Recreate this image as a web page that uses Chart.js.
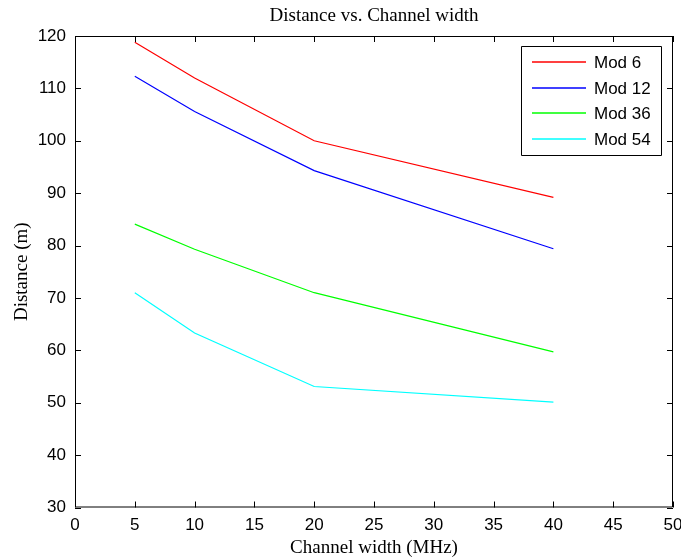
<!DOCTYPE html>
<html>
<head>
<meta charset="utf-8">
<title>Distance vs. Channel width</title>
<script src="https://cdn.jsdelivr.net/npm/chart.js@4.4.1/dist/chart.umd.min.js"></script>
<style>
  html, body { margin: 0; padding: 0; background: #fff; }
  #chart { display: block; }
</style>
</head>
<body>
<canvas id="chart" width="681" height="559"></canvas>
<script>
// channel width (MHz) on x, distance (m) on y
const channelWidths = [5, 10, 20, 40];
const mod6 = [118.8, 112, 100, 89.2];
const mod12 = [112.3, 105.6, 94.3, 79.4];
const mod36 = [84.1, 79.3, 71, 59.7];
const mod54 = [71, 63.3, 53.1, 50.1];
const seriesNames = ['Mod 6', 'Mod 12', 'Mod 36', 'Mod 54'];
const seriesColors = ['#ff0000', '#0000ff', '#00ff00', '#00ffff'];

const titleText = 'Distance vs. Channel width';
const xTitle = 'Channel width (MHz)';
const yTitle = 'Distance (m)';

const sansFont = '"Liberation Sans", Arial, sans-serif';
const serifFont = '"Liberation Serif", "Times New Roman", serif';

const toPoints = vals => vals.map((v, i) => ({ x: channelWidths[i], y: v }));

// box, inward ticks on all four sides, title and legend (MATLAB look)
const matlabFrame = {
  id: 'matlabFrame',
  afterDraw(chart) {
    const { ctx, chartArea: a, scales: { x, y } } = chart;
    const tick = 6;
    ctx.save();
    ctx.strokeStyle = '#000';
    ctx.lineWidth = 1;
    ctx.beginPath();
    ctx.rect(a.left + 0.5, a.top + 0.5, a.right - a.left - 1, a.bottom - a.top - 1);
    x.ticks.forEach(t => {
      const px = Math.round(x.getPixelForValue(t.value)) + 0.5;
      ctx.moveTo(px, a.bottom); ctx.lineTo(px, a.bottom - tick);
      ctx.moveTo(px, a.top); ctx.lineTo(px, a.top + tick);
    });
    y.ticks.forEach(t => {
      const py = Math.round(y.getPixelForValue(t.value)) + 0.5;
      ctx.moveTo(a.left, py); ctx.lineTo(a.left + tick, py);
      ctx.moveTo(a.right, py); ctx.lineTo(a.right - tick, py);
    });
    ctx.stroke();

    // title
    ctx.fillStyle = '#000';
    ctx.font = '19px ' + serifFont;
    ctx.textAlign = 'center';
    ctx.textBaseline = 'middle';
    ctx.fillText(titleText, (a.left + a.right) / 2, 16);

    // legend box
    const boxW = 140, boxH = 109;
    const bx = a.right - 12 - boxW;
    const by = a.top + 10;
    ctx.fillStyle = '#fff';
    ctx.fillRect(bx, by, boxW, boxH);
    ctx.beginPath();
    ctx.rect(bx + 0.5, by + 0.5, boxW, boxH);
    ctx.stroke();
    ctx.font = '17px ' + sansFont;
    ctx.textAlign = 'left';
    chart.data.datasets.forEach((ds, i) => {
      const ly = Math.round(by + 16 + i * 25.5);
      ctx.strokeStyle = ds.borderColor;
      ctx.lineWidth = 1.4;
      ctx.beginPath();
      ctx.moveTo(bx + 11, ly);
      ctx.lineTo(bx + 65, ly);
      ctx.stroke();
      ctx.fillStyle = '#000';
      ctx.fillText(ds.label, bx + 73, ly + 1);
    });
    ctx.restore();
  }
};

new Chart(document.getElementById('chart'), {
  type: 'scatter',
  data: {
    datasets: [mod6, mod12, mod36, mod54].map((vals, i) => ({
      label: seriesNames[i],
      data: toPoints(vals),
      showLine: true,
      borderColor: seriesColors[i],
      backgroundColor: seriesColors[i],
      borderWidth: 1.2,
      pointRadius: 0,
      tension: 0
    }))
  },
  options: {
    responsive: false,
    animation: false,
    layout: { padding: { top: 36, right: 8, left: 0, bottom: 0 } },
    plugins: {
      legend: { display: false },
      title: { display: false },
      tooltip: { enabled: false }
    },
    scales: {
      x: {
        type: 'linear',
        min: 0,
        max: 50,
        afterFit: s => { s.height = 51.5; s.paddingLeft = 0; s.paddingRight = 0; },
        grid: { display: false, drawTicks: false },
        border: { display: false },
        ticks: {
          stepSize: 5,
          padding: 8,
          color: '#000',
          maxRotation: 0,
          font: { family: sansFont, size: 17 }
        },
        title: {
          display: true,
          text: xTitle,
          color: '#000',
          padding: { top: 0, bottom: 0 },
          font: { family: serifFont, size: 19 }
        }
      },
      y: {
        type: 'linear',
        min: 30,
        max: 120,
        afterFit: s => { s.width = 75; s.paddingTop = 0; s.paddingBottom = 0; },
        grid: { display: false, drawTicks: false },
        border: { display: false },
        ticks: {
          stepSize: 10,
          padding: 9,
          color: '#000',
          font: { family: sansFont, size: 17 }
        },
        title: {
          display: true,
          text: yTitle,
          color: '#000',
          padding: { top: 11, bottom: 0 },
          font: { family: serifFont, size: 19 }
        }
      }
    }
  },
  plugins: [matlabFrame]
});
</script>
</body>
</html>
